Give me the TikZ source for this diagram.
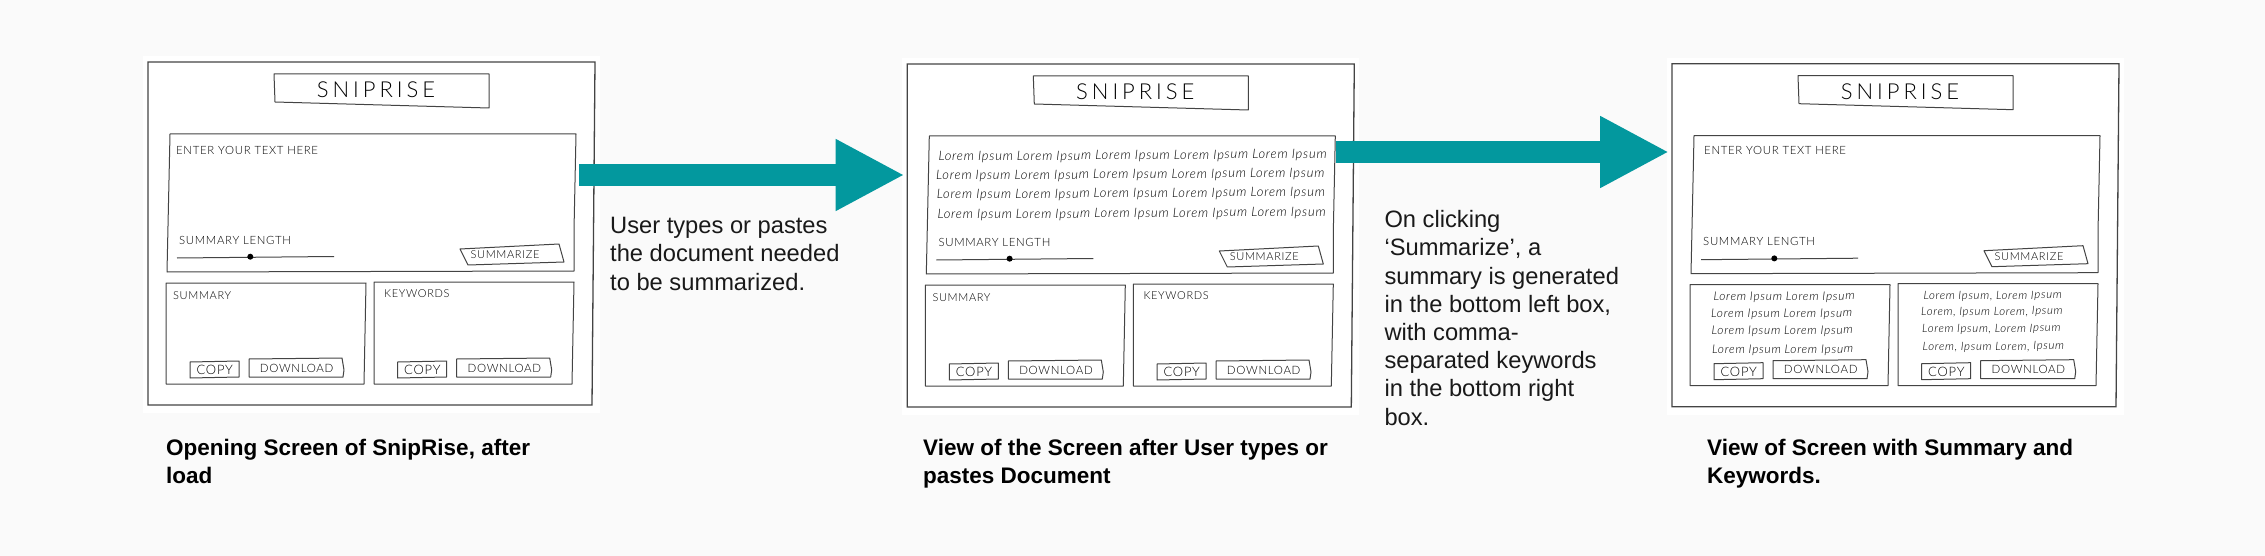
\documentclass[tikz,border=0pt]{standalone}
\usepackage{fontspec}
\usepackage{xcolor}
\setmainfont{Liberation Sans}
\newfontfamily\sketchfont[LetterSpace=6]{Lato Light}
\newfontfamily\titlefont[LetterSpace=18]{Lato Light}
\usetikzlibrary{arrows.meta}
\definecolor{pagebg}{HTML}{FAFAFA}
\definecolor{tealarrow}{HTML}{03989E}
\definecolor{sketchline}{HTML}{444444}
\tikzset{
  sketchbox/.style={draw=sketchline,line width=1pt,line join=round},
  framebox/.style={draw=sketchline,line width=1.3pt,fill=white},
  handtext/.style={inner sep=0pt,text=black,font=\sketchfont\fontsize{#1}{#1}\selectfont},
  handtext/.default=11.4,
  titletext/.style={inner sep=0pt,text=black,font=\titlefont\fontsize{22}{22}\selectfont},
  loremtext/.style={inner sep=0pt,anchor=west,rotate=.4,text=black,font=\sketchfont\fontsize{#1}{#1}\selectfont\itshape},
  loremtext/.default=13,
  flowarrow/.style={line width=21.5pt,tealarrow,-{Triangle[width=67pt,length=69pt]}},
  note/.style={inner sep=0pt,anchor=base west,align=left,text=black!90,font=\fontsize{23.7}{28.2}\selectfont},
  caption/.style={inner sep=0pt,anchor=base west,align=left,text=black,font=\bfseries\fontsize{22.5}{27.4}\selectfont},
}
\begin{document}
\begin{tikzpicture}[x=1pt,y=-1pt]
  \fill[pagebg] (0,0) rectangle (2265,556);
  \useasboundingbox (0,0) rectangle (2265,556);

  % the three screens share one layout
  \foreach \n/\px/\py in {a/148/62,b/907.3/64,c/1672/63.7} {
    \begin{scope}[shift={(\px,\py)}]
      \fill[white] (-5,-6) rectangle (452,351);
      \draw[framebox] (0,0) -- (447,0) -- (444,343) -- (0,343) -- cycle;
      \draw[sketchbox] (126,12) -- (341,12) -- (341,46) -- (127,40) -- cycle;
      \node[titletext] (\n title) at (228,28) {SNIPRISE};
      % input box
      \draw[sketchbox] (22,72) -- (428,72) -- (426,168) -- (426,209) -- (19,210) -- cycle;
      \node[handtext,anchor=west] (\n length) at (31,178) {SUMMARY LENGTH};
      \coordinate (\n sliderl) at (29,196);
      \coordinate (\n sliderr) at (186,194.5);
      \draw[sketchbox] (\n sliderl) -- (\n sliderr);
      \fill[black] (102.3,194.7) circle (3);
      \draw[sketchbox] (312,187) -- (411,182) -- (416,200) -- (320,203) -- cycle;
      \node[handtext=11] (\n summarize) at (357,193) {SUMMARIZE};
      % bottom boxes
      \draw[sketchbox] (18,221) -- (218,221) -- (216,322) -- (18,322) -- cycle;
      \draw[sketchbox] (226,220) -- (426,220) -- (424,322) -- (226,322) -- cycle;
      \foreach \m/\dx in {l/0,r/207.7} {
        \draw[sketchbox] (42+\dx,300) -- (91+\dx,299) -- (91+\dx,315) -- (42+\dx,316) -- cycle;
        \node[handtext=13] (\n copy\m) at (66.7+\dx,308) {COPY};
        \draw[sketchbox] (101+\dx,297) -- (194+\dx,296) -- (196+\dx,308) -- (195+\dx,315) -- (101+\dx,315) -- cycle;
        \node[handtext=11.5] (\n down\m) at (148.7+\dx,306) {DOWNLOAD};
      }
    \end{scope}
  }

  % labels of the empty boxes
  \begin{scope}[shift={(148,62)}]
    \node[handtext,anchor=west] (aenter) at (28,88) {ENTER YOUR TEXT HERE};
    \node[handtext=11,anchor=west] (asum) at (25,234) {SUMMARY};
    \node[handtext=11,anchor=west] (akey) at (236,232) {KEYWORDS};
  \end{scope}
  \begin{scope}[shift={(907.3,64)}]
    \node[handtext=11,anchor=west] (bsum) at (25,234) {SUMMARY};
    \node[handtext=11,anchor=west] (bkey) at (236,232) {KEYWORDS};
    \node[loremtext] (bl1) at (31,93.5) {Lorem Ipsum Lorem Ipsum Lorem Ipsum Lorem Ipsum Lorem Ipsum};
    \node[loremtext] (bl2) at (28.7,112.5) {Lorem Ipsum Lorem Ipsum Lorem Ipsum Lorem Ipsum Lorem Ipsum};
    \node[loremtext] (bl3) at (29.3,131.5) {Lorem Ipsum Lorem Ipsum Lorem Ipsum Lorem Ipsum Lorem Ipsum};
    \node[loremtext] (bl4) at (30,151.5) {Lorem Ipsum Lorem Ipsum Lorem Ipsum Lorem Ipsum Lorem Ipsum};
  \end{scope}
  \begin{scope}[shift={(1672,63.7)}]
    \node[handtext,anchor=west] (center) at (32,87) {ENTER YOUR TEXT HERE};
    \node[loremtext=12] (cs1) at (41.3,234) {Lorem Ipsum Lorem Ipsum};
    \node[loremtext=12] (cs2) at (39,251) {Lorem Ipsum Lorem Ipsum};
    \node[loremtext=12] (cs3) at (39.5,268) {Lorem Ipsum Lorem Ipsum};
    \node[loremtext=12] (cs4) at (40,287) {Lorem Ipsum Lorem Ipsum};
    \node[loremtext=11.5] (ck1) at (251.3,233) {Lorem Ipsum, Lorem Ipsum};
    \node[loremtext=11.5] (ck2) at (249,249) {Lorem, Ipsum Lorem, Ipsum};
    \node[loremtext=11.5] (ck3) at (250,266) {Lorem Ipsum, Lorem Ipsum};
    \node[loremtext=11.5] (ck4) at (250.5,284) {Lorem, Ipsum Lorem, Ipsum};
  \end{scope}

  % flow arrows
  \coordinate (arrowastart) at (579,175);
  \coordinate (arrowbstart) at (1335.7,152);
  \coordinate (arrowaend) at (904.5,175);
  \coordinate (arrowbend) at (1669,152);
  \draw[flowarrow] (arrowastart) -- (arrowaend);
  \draw[flowarrow] (arrowbstart) -- (arrowbend);

  \node[note] (notea) at (610,290) {User types or pastes\\the document needed\\to be summarized.};
  \node[note] (noteb) at (1384.3,425) {On clicking\\`Summarize', a\\summary is generated\\in the bottom left box,\\with comma-\\separated keywords\\in the bottom right\\box.};

  \node[caption] (capa) at (166,483.3) {Opening Screen of SnipRise, after\\load};
  \node[caption] (capb) at (923,483.3) {View of the Screen after User types or\\pastes Document};
  \node[caption] (capc) at (1707,483.3) {View of Screen with Summary and\\Keywords.};
\end{tikzpicture}
\end{document}
